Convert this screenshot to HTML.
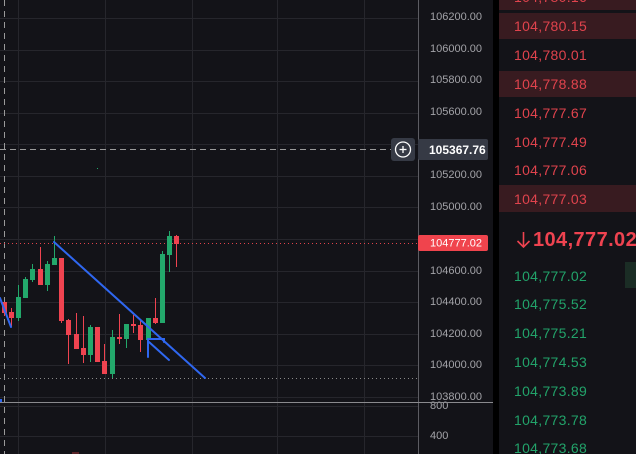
<!DOCTYPE html>
<html><head><meta charset="utf-8"><style>
html,body{margin:0;padding:0;background:#131318;}
svg{display:block;font-family:"Liberation Sans",sans-serif;}
</style></head><body>
<svg width="636" height="454" viewBox="0 0 636 454" xmlns="http://www.w3.org/2000/svg">
<rect x="0" y="0" width="636" height="454" fill="#131318"/>
<!-- grid -->
<g stroke="#26262c" stroke-width="1">
<line x1="0" y1="18.5" x2="418" y2="18.5"/><line x1="0" y1="50.5" x2="418" y2="50.5"/>
<line x1="0" y1="81.5" x2="418" y2="81.5"/><line x1="0" y1="113.5" x2="418" y2="113.5"/>
<line x1="0" y1="144.5" x2="418" y2="144.5"/><line x1="0" y1="176.5" x2="418" y2="176.5"/>
<line x1="0" y1="207.5" x2="418" y2="207.5"/><line x1="0" y1="239.5" x2="418" y2="239.5"/>
<line x1="0" y1="271.5" x2="418" y2="271.5"/><line x1="0" y1="302.5" x2="418" y2="302.5"/>
<line x1="0" y1="334.5" x2="418" y2="334.5"/><line x1="0" y1="365.5" x2="418" y2="365.5"/>
<line x1="0" y1="397.5" x2="418" y2="397.5"/>
<line x1="0" y1="406.5" x2="418" y2="406.5"/><line x1="0" y1="436.5" x2="418" y2="436.5"/>
<line x1="18.5" y1="0" x2="18.5" y2="454"/><line x1="105.5" y1="0" x2="105.5" y2="454"/>
<line x1="192.5" y1="0" x2="192.5" y2="454"/><line x1="277.5" y1="0" x2="277.5" y2="454"/>
<line x1="364.5" y1="0" x2="364.5" y2="454"/>
</g>
<!-- dashed vertical -->
<line x1="4.5" y1="0" x2="4.5" y2="454" stroke="#9a9a9a" stroke-width="1" stroke-dasharray="6,5"/>
<!-- dashed horizontal crosshair -->
<line x1="0" y1="149.5" x2="391" y2="149.5" stroke="#9a9a9a" stroke-width="1" stroke-dasharray="6,4"/>
<!-- red dotted price line -->
<line x1="0" y1="243.5" x2="418" y2="243.5" stroke="#e0434c" stroke-width="1" stroke-dasharray="1,3"/>
<!-- grey dotted -->
<line x1="0" y1="378.5" x2="418" y2="378.5" stroke="#8a8a8a" stroke-width="1" stroke-dasharray="1,3"/>
<!-- tiny dot -->
<rect x="97" y="168" width="1" height="1" fill="#23a86b"/>
<!-- candles -->
<g stroke-width="1">
<g fill="#ef4350" stroke="#ef4350">
<line x1="4.5" y1="302" x2="4.5" y2="316"/><rect x="2" y="302" width="5" height="11" stroke="none"/>
<line x1="11.5" y1="308" x2="11.5" y2="327"/><rect x="9" y="312" width="5" height="6" stroke="none"/>
<line x1="40.5" y1="247" x2="40.5" y2="285"/><rect x="38" y="269" width="5" height="16" stroke="none"/>
<line x1="61.5" y1="258" x2="61.5" y2="323"/><rect x="59" y="258" width="5" height="63" stroke="none"/>
<line x1="68.5" y1="319" x2="68.5" y2="364"/><rect x="66" y="320" width="5" height="15" stroke="none"/>
<line x1="76.5" y1="313" x2="76.5" y2="349"/><rect x="74" y="334" width="5" height="15" stroke="none"/>
<line x1="83.5" y1="316" x2="83.5" y2="363"/><rect x="81" y="348" width="5" height="7" stroke="none"/>
<rect x="95" y="327" width="5" height="35" stroke="none"/>
<line x1="104.5" y1="344" x2="104.5" y2="374"/><rect x="102" y="361" width="5" height="13" stroke="none"/>
<line x1="119.5" y1="314" x2="119.5" y2="344"/><rect x="117" y="337" width="5" height="2" stroke="none"/>
<line x1="133.5" y1="315" x2="133.5" y2="333"/><rect x="131" y="324" width="5" height="2" stroke="none"/>
<line x1="140.5" y1="319" x2="140.5" y2="352"/><rect x="138" y="325" width="5" height="15" stroke="none"/>
<line x1="155.5" y1="298" x2="155.5" y2="324"/><rect x="153" y="318" width="5" height="5" stroke="none"/>
<line x1="176.5" y1="235" x2="176.5" y2="267"/><rect x="174" y="236" width="5" height="8" stroke="none"/>
</g>
<g fill="#23a86b" stroke="#23a86b">
<line x1="18.5" y1="285" x2="18.5" y2="321"/><rect x="16" y="297" width="5" height="21" stroke="none"/>
<line x1="25.5" y1="277" x2="25.5" y2="298"/><rect x="23" y="279" width="5" height="19" stroke="none"/>
<line x1="32.5" y1="264" x2="32.5" y2="282"/><rect x="30" y="269" width="5" height="11" stroke="none"/>
<line x1="47.5" y1="261" x2="47.5" y2="291"/><rect x="45" y="264" width="5" height="21" stroke="none"/>
<line x1="54.5" y1="236" x2="54.5" y2="265"/><rect x="52" y="258" width="5" height="7" stroke="none"/>
<line x1="90.5" y1="325" x2="90.5" y2="362"/><rect x="88" y="327" width="5" height="28" stroke="none"/>
<line x1="112.5" y1="330" x2="112.5" y2="378"/><rect x="110" y="337" width="5" height="37" stroke="none"/>
<line x1="126.5" y1="324" x2="126.5" y2="348"/><rect x="124" y="324" width="5" height="15" stroke="none"/>
<line x1="148.5" y1="318" x2="148.5" y2="350"/><rect x="146" y="318" width="5" height="22" stroke="none"/>
<line x1="162.5" y1="251" x2="162.5" y2="323"/><rect x="160" y="254" width="5" height="69" stroke="none"/>
<line x1="169.5" y1="231" x2="169.5" y2="272"/><rect x="167" y="236" width="5" height="19" stroke="none"/>
</g>
</g>
<!-- blue drawings -->
<g stroke="#2f67f0" stroke-width="2" fill="none" stroke-linecap="round">
<line x1="54" y1="242" x2="205" y2="378"/>
<line x1="0" y1="298" x2="11" y2="327"/>
<line x1="149" y1="342" x2="169" y2="360"/>
<line x1="148" y1="339" x2="148" y2="357"/>
<polyline points="148,339 164,339 164,342"/>
</g>
<rect x="0" y="399" width="2" height="3" fill="#2f67f0"/>
<!-- volume bar -->
<rect x="72" y="452" width="7" height="2" fill="#5a2428"/>
<!-- price axis -->
<rect x="419" y="0" width="74" height="454" fill="#131318"/>
<line x1="418.5" y1="0" x2="418.5" y2="454" stroke="#5c5c62" stroke-width="1"/>
<g fill="#a3a3a8" font-size="11" dominant-baseline="central">
<text x="430" y="17">106200.00</text>
<text x="430" y="49">106000.00</text>
<text x="430" y="80">105800.00</text>
<text x="430" y="112">105600.00</text>
<text x="430" y="175">105200.00</text>
<text x="430" y="207">105000.00</text>
<text x="430" y="271">104600.00</text>
<text x="430" y="302">104400.00</text>
<text x="430" y="334">104200.00</text>
<text x="430" y="365">104000.00</text>
<text x="430" y="397">103800.00</text>
<text x="430" y="406">800</text>
<text x="430" y="436">400</text>
</g>
<!-- pane separator -->
<line x1="0" y1="402.5" x2="493" y2="402.5" stroke="#8a8a8e" stroke-width="1"/>
<!-- plus button -->
<rect x="391" y="138" width="24" height="23" rx="3" fill="#363a45"/>
<circle cx="403" cy="149.5" r="7.5" fill="none" stroke="#ffffff" stroke-width="1.3"/>
<line x1="399.5" y1="149.5" x2="406.5" y2="149.5" stroke="#fff" stroke-width="1.3"/>
<line x1="403" y1="146" x2="403" y2="153" stroke="#fff" stroke-width="1.3"/>
<!-- crosshair label -->
<rect x="418" y="139" width="70" height="21" rx="2" fill="#363a45"/>
<text x="429" y="150" fill="#ffffff" font-size="12" font-weight="bold" dominant-baseline="central">105367.76</text>
<!-- current price label -->
<rect x="418" y="235" width="70" height="16" rx="2" fill="#f0444d"/>
<text x="430" y="243.5" fill="#ffffff" font-size="11" dominant-baseline="central">104777.02</text>
<!-- separator -->
<rect x="493" y="0" width="6" height="454" fill="#000000"/>
<!-- order book -->
<rect x="499" y="0" width="137" height="454" fill="#131318"/>
<g fill="#381b20">
<rect x="499" y="0" width="137" height="10"/>
<rect x="499" y="13" width="137" height="26"/>
<rect x="499" y="71" width="137" height="26"/>
<rect x="499" y="185" width="137" height="27"/>
</g>
<g fill="#e0434d" font-size="14" letter-spacing="0.3" dominant-baseline="central">
<text x="514" y="-3">104,780.16</text>
<text x="514" y="26">104,780.15</text>
<text x="514" y="55">104,780.01</text>
<text x="514" y="84">104,778.88</text>
<text x="514" y="113">104,777.67</text>
<text x="514" y="142">104,777.49</text>
<text x="514" y="170">104,777.06</text>
<text x="514" y="199">104,777.03</text>
</g>
<!-- mid price -->
<g stroke="#ef4350" stroke-width="1.6" fill="none">
<line x1="523.5" y1="232" x2="523.5" y2="247"/>
<polyline points="517.5,241 523.5,247 529.5,241"/>
</g>
<text x="533" y="240" fill="#ef4350" font-size="20" font-weight="bold" letter-spacing="0.4" dominant-baseline="central">104,777.02</text>
<rect x="625" y="262" width="11" height="26" fill="#1b2d25"/>
<g fill="#22a36a" font-size="14" letter-spacing="0.3" dominant-baseline="central">
<text x="514" y="276">104,777.02</text>
<text x="514" y="304">104,775.52</text>
<text x="514" y="333">104,775.21</text>
<text x="514" y="362">104,774.53</text>
<text x="514" y="391">104,773.89</text>
<text x="514" y="420">104,773.78</text>
<text x="514" y="448">104,773.68</text>
</g>
</svg>
</body></html>
